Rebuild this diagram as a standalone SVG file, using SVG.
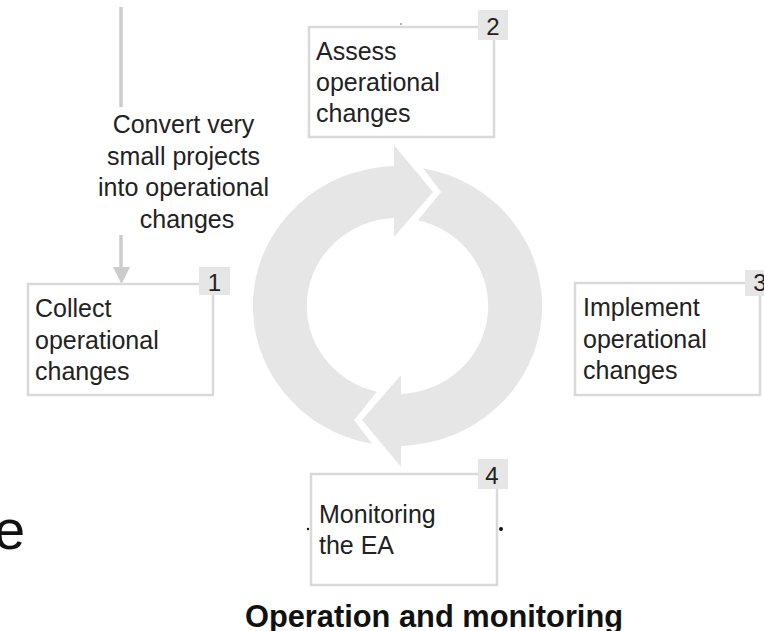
<svg xmlns="http://www.w3.org/2000/svg" width="764" height="631" viewBox="0 0 764 631">
  <style>
    .box { fill: #ffffff; stroke: #d9d9d9; stroke-width: 2.5; }
    .badge { fill: #e6e6e6; }
    .txt { font-family: "Liberation Sans", Arial, sans-serif; font-size: 25px; fill: #222222; }
    .num { font-family: "Liberation Sans", Arial, sans-serif; font-size: 24px; fill: #222222; text-anchor: middle; }
    .ring { fill: #e6e6e6; }
    .conn { stroke: #cccccc; stroke-width: 3.5; fill: none; }
  </style>
  <defs>
    <path id="half" d="M 372 443.8 A 145 140 0 0 1 394 166.1 L 394 145 L 433 192 L 394 237 L 394 218.1 A 91 88 0 0 0 377 391.7 L 354 420 Z"/>
  </defs>
  <rect width="764" height="631" fill="#ffffff"/>

  <g id="cycle">
    <use href="#half" class="ring"/>
    <use href="#half" class="ring" transform="rotate(180 397.5 306)"/>
  </g>

  <g id="connectors">
    <line class="conn" x1="121" y1="7" x2="121" y2="107"/>
    <line class="conn" x1="121" y1="235" x2="121" y2="268"/>
    <polygon points="113,267 130,267 121.5,284" fill="#cccccc"/>
    <text class="txt" text-anchor="middle">
      <tspan x="187" y="133">Convert very</tspan>
      <tspan x="187" y="165">small projects</tspan>
      <tspan x="187" y="196">into operational</tspan>
      <tspan x="187" y="228">changes</tspan>
    </text>
  </g>

  <g id="node-collect">
    <rect class="box" x="28" y="284" width="185" height="111"/>
    <rect class="badge" x="199" y="267" width="31" height="28"/>
    <text class="num" x="214.5" y="291">1</text>
    <text class="txt">
      <tspan x="35" y="317">Collect</tspan>
      <tspan x="35" y="349">operational</tspan>
      <tspan x="35" y="380">changes</tspan>
    </text>
  </g>

  <g id="node-assess">
    <rect class="box" x="309" y="27" width="185" height="110"/>
    <rect class="badge" x="478" y="10" width="30" height="30"/>
    <text class="num" x="493" y="35">2</text>
    <text class="txt">
      <tspan x="316" y="60">Assess</tspan>
      <tspan x="316" y="91">operational</tspan>
      <tspan x="316" y="122">changes</tspan>
    </text>
    <line x1="400" y1="24" x2="402" y2="24" stroke="#999999" stroke-width="1.5"/>
  </g>

  <g id="node-implement">
    <rect class="box" x="575" y="283" width="185" height="112"/>
    <rect class="badge" x="745" y="270" width="30" height="26"/>
    <text class="num" x="760" y="291">3</text>
    <text class="txt">
      <tspan x="583" y="316">Implement</tspan>
      <tspan x="583" y="348">operational</tspan>
      <tspan x="583" y="379">changes</tspan>
    </text>
  </g>

  <g id="node-monitoring">
    <rect class="box" x="311" y="474" width="186" height="111"/>
    <rect class="badge" x="478" y="459" width="30" height="30"/>
    <text class="num" x="492" y="484">4</text>
    <text class="txt">
      <tspan x="319" y="523">Monitoring</tspan>
      <tspan x="319" y="554">the EA</tspan>
    </text>
    <circle cx="308" cy="529" r="1.2" fill="#111111"/>
    <circle cx="501" cy="529" r="2" fill="#111111"/>
  </g>

  <text x="-6" y="549" font-family="'Liberation Sans', Arial, sans-serif" font-size="56" fill="#111111">e</text>

  <text x="434" y="627" text-anchor="middle" font-family="'Liberation Sans', Arial, sans-serif" font-size="30.8" font-weight="bold" fill="#111111">Operation and monitoring</text>
</svg>
